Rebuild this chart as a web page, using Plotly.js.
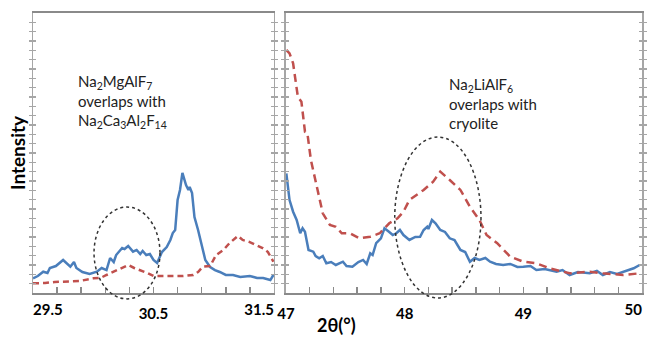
<!DOCTYPE html>
<html><head><meta charset="utf-8">
<script src="https://cdn.plot.ly/plotly-3.0.1.min.js"></script>
<style>html,body{margin:0;padding:0;background:#fff}#chart{width:647px;height:339px}</style>
</head><body><div id="chart"></div>
<script>
// Left panel (2θ 29.5–31.5)
const leftBlueX = [29.50,29.54,29.585,29.62,29.64,29.69,29.75,29.78,29.81,29.84,29.86,29.91,29.97,30.03,30.07,30.11,30.14,30.17,30.19,30.24,30.26,30.29,30.33,30.36,30.39,30.41,30.44,30.47,30.50,30.53,30.57,30.61,30.64,30.66,30.68,30.70,30.72,30.74,30.77,30.79,30.80,30.82,30.84,30.87,30.89,30.93,30.97,31.01,31.05,31.10,31.16,31.22,31.30,31.36,31.41,31.47,31.495];
const leftBlueY = [15.7,18.2,22.8,21.4,26.8,28.9,35.4,32.1,28.2,33.2,26.8,22.5,20.4,22.8,26.8,24.6,37.5,33.2,40.7,48.2,47.1,50.4,44.3,46.1,41.8,45.0,40.7,41.8,35.4,32.1,43.9,49.3,56.8,64.3,67.5,99.6,110.4,128.6,115.7,110.4,113.6,107.1,81.4,67.5,56.8,35.4,27.9,24.6,22.5,19.3,19.3,17.1,18.2,16.1,16.1,13.9,19.3];
const leftRedX = [29.50,29.60,29.68,29.78,29.89,30.00,30.06,30.11,30.18,30.23,30.29,30.34,30.39,30.45,30.50,30.58,30.66,30.74,30.83,30.87,30.91,30.97,31.02,31.08,31.13,31.20,31.24,31.29,31.35,31.41,31.45,31.495];
const leftRedY = [10.4,10.7,11.8,12.1,12.9,15.7,16.1,19.3,23.6,26.8,30.0,26.8,24.6,21.4,18.2,18.2,17.5,18.2,19.3,22.5,28.2,28.9,40.7,46.1,53.3,61.1,56.8,55.0,51.4,47.9,43.9,33.5];
// Right panel (2θ 47–50)
const rightBlueX = [47.003,47.03,47.06,47.09,47.12,47.14,47.16,47.19,47.23,47.25,47.28,47.31,47.34,47.38,47.42,47.45,47.48,47.51,47.56,47.61,47.65,47.68,47.71,47.73,47.76,47.80,47.83,47.87,47.90,47.93,47.96,47.99,48.04,48.09,48.13,48.16,48.19,48.20,48.23,48.26,48.30,48.34,48.38,48.42,48.47,48.51,48.55,48.59,48.63,48.68,48.72,48.77,48.83,48.89,48.95,49.00,49.06,49.11,49.18,49.28,49.33,49.39,49.46,49.56,49.62,49.67,49.73,49.79,49.84,49.93,49.98];
const rightBlueY = [128.2,99.6,87.1,78.2,64.0,69.3,65.7,46.1,44.3,39.6,37.2,39.6,31.8,33.2,30.0,32.1,33.5,28.9,28.2,33.2,35.4,31.1,42.5,40.7,53.3,58.6,69.3,65.4,62.1,64.0,67.5,62.1,56.8,60.0,60.3,67.5,71.0,68.6,78.2,74.7,67.5,65.4,58.6,56.8,46.1,43.9,33.5,37.5,35.4,37.5,33.5,31.1,30.0,31.1,27.9,28.2,28.9,24.6,25.7,22.8,24.6,19.3,22.5,21.1,23.6,19.3,22.5,20.4,22.8,26.5,30.0];
const rightRedX = [47.003,47.03,47.06,47.08,47.10,47.13,47.16,47.18,47.21,47.26,47.31,47.37,47.42,47.47,47.54,47.62,47.71,47.79,47.87,47.94,47.99,48.04,48.16,48.24,48.30,48.38,48.47,48.55,48.63,48.69,48.78,48.89,49.00,49.11,49.22,49.39,49.56,49.67,49.84,49.98];
const rightRedY = [260.4,256.8,246.1,228.2,210.3,205.0,172.8,171.4,142.5,113.9,85.4,72.9,71.0,64.0,64.0,58.6,60.3,64.0,74.7,80.0,87.1,99.6,110.4,119.2,130.0,121.1,110.4,92.5,78.2,62.1,53.3,38.9,33.5,31.8,26.5,21.1,22.8,21.1,19.3,21.1];
// Tick labels
const leftFirstTick = [29.5], leftFirstText = ["29.5"];
const leftMidTick = [30.5], leftMidText = ["30.5"];
const leftLastTick = [31.5], leftLastText = ["31.5"];
const rightTickVals = [47, 48, 49];
const rightTickText = ["47", "48", "49"];
const rightLastTick = [50], rightLastText = ["50"];

const blue = '#4a7ebb', red = '#c0504d';
const traces = [
  {x: leftBlueX, y: leftBlueY, xaxis:'x', yaxis:'y', mode:'lines', line:{color:blue, width:2.5}},
  {x: leftRedX, y: leftRedY, xaxis:'x', yaxis:'y', mode:'lines', line:{color:red, width:2.5, dash:'6px,4px'}},
  {x: rightBlueX, y: rightBlueY, xaxis:'x2', yaxis:'y2', mode:'lines', line:{color:blue, width:2.5}},
  {x: rightRedX, y: rightRedY, xaxis:'x2', yaxis:'y2', mode:'lines', line:{color:red, width:2.5, dash:'8px,5px'}},
  {x: [], y: [], xaxis:'x3', yaxis:'y', mode:'lines', hoverinfo:'skip'},
  {x: [], y: [], xaxis:'x4', yaxis:'y', mode:'lines', hoverinfo:'skip'},
  {x: [], y: [], xaxis:'x5', yaxis:'y2', mode:'lines', hoverinfo:'skip'}
];
const tf = {family:'Lato, "Open Sans", sans-serif', size:15, color:'#000', weight:'bold'};
function xax(domain, range, tv, tt, anchor){
  return {domain, range, anchor, tickmode:'array', tickvals:tv, ticktext:tt, ticks:'inside', ticklen:6, tickcolor:'#8a8a8a', tickwidth:1.5,
    minor:{dtick:0.2, tick0:range[0], ticks:'inside', ticklen:6, tickcolor:'#8a8a8a', tickwidth:1.5},
    showline:true, linecolor:'#8a8a8a', linewidth:2, mirror:true, showgrid:false, zeroline:false, tickfont:tf,
    ticklabelstandoff:6, ticklabeloverflow:'allow'};
}
function xover(over, anchor, range, tv, tt, pos){
  return {overlaying:over, anchor, range, tickmode:'array', tickvals:tv, ticktext:tt, ticks:'', showline:false,
    showgrid:false, zeroline:false, tickfont:tf, ticklabelposition:pos, ticklabelstandoff:6, ticklabeloverflow:'allow', side:'bottom'};
}
function yax(anchor){
  return {anchor, range:[0,300], dtick:10, ticks:'inside', ticklen:3, tickcolor:'#a6a6a6', tickwidth:1.5, showticklabels:false,
    showline:true, linecolor:'#a6a6a6', linewidth:1.5, mirror:'allticks', showgrid:false, zeroline:false};
}
const y1 = yax('x');
y1.title = {text:'Intensity', font:{family:'Lato, "Open Sans", sans-serif', size:19, color:'#000', weight:'bold'}, standoff:1};
const annFont = {family:'Lato, "Open Sans", sans-serif', size:15, color:'#222'};
const layout = {
  width:647, height:339, margin:{l:33, r:5, t:13, b:46}, showlegend:false,
  paper_bgcolor:'#fff', plot_bgcolor:'#fff',
  xaxis: xax([0, 0.3957], [29.5, 31.5], leftMidTick, leftMidText, 'y'),
  xaxis2: xax([0.4154, 1], [47, 50], rightTickVals, rightTickText, 'y2'),
  xaxis3: xover('x', 'y', [29.5, 31.5], leftFirstTick, leftFirstText, 'outside right'),
  xaxis4: xover('x', 'y', [29.5, 31.5], leftLastTick, leftLastText, 'outside left'),
  xaxis5: xover('x2', 'y2', [47, 50], rightLastTick, rightLastText, 'outside left'),
  yaxis: y1,
  yaxis2: yax('x2'),
  shapes: [
    {type:'circle', xref:'paper', yref:'paper', x0:0.1002, x1:0.2085, y0:-0.021, y1:0.307, line:{color:'#333', width:1.5, dash:'dot'}},
    {type:'circle', xref:'paper', yref:'paper', x0:0.594, x1:0.7356, y0:-0.018, y1:0.557, line:{color:'#333', width:1.5, dash:'dot'}}
  ],
  annotations: [
    {xref:'paper', yref:'paper', x:0.0706, y:0.795, xanchor:'left', yanchor:'top', align:'left', showarrow:false, font:annFont,
     text:'Na<sub>2</sub>MgAlF<sub>7</sub><br>overlaps with<br>Na<sub>2</sub>Ca<sub>3</sub>Al<sub>2</sub>F<sub>14</sub>'},
    {xref:'paper', yref:'paper', x:0.679, y:0.785, xanchor:'left', yanchor:'top', align:'left', showarrow:false, font:annFont,
     text:'Na<sub>2</sub>LiAlF<sub>6</sub><br>overlaps with<br>cryolite'},
    {xref:'paper', yref:'paper', x:0.499, y:-0.114, xanchor:'center', yanchor:'middle', showarrow:false,
     font:{family:'Lato, "Open Sans", sans-serif', size:18, color:'#000', weight:'bold'}, text:'2θ(°)'}
  ]
};
Plotly.newPlot('chart', traces, layout, {displayModeBar:false, staticPlot:true});
</script></body></html>
